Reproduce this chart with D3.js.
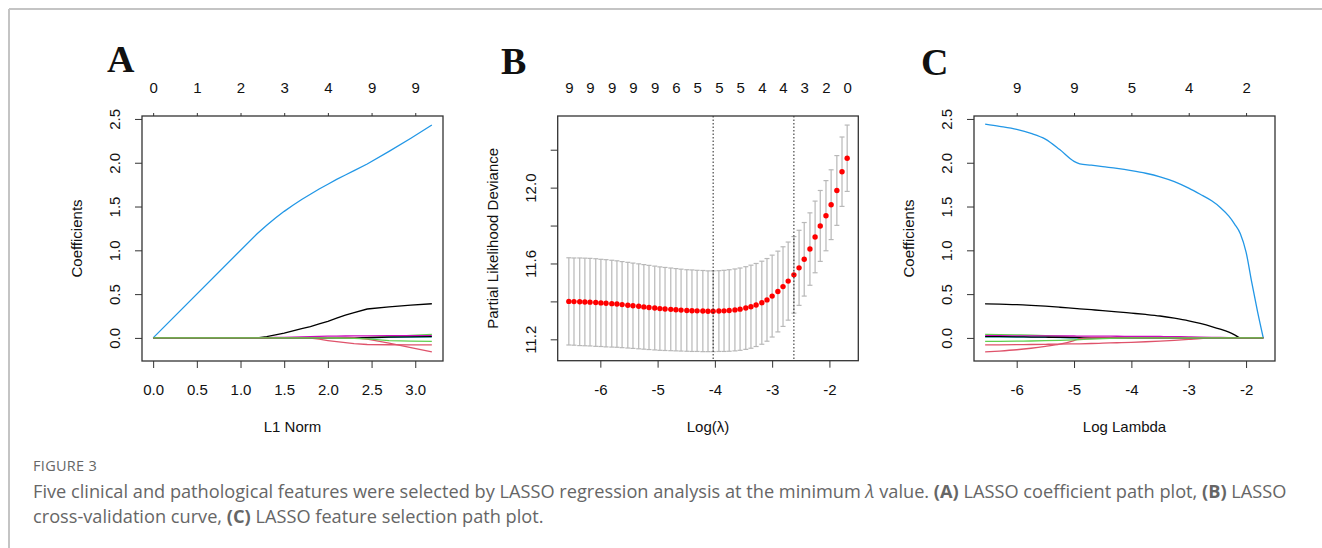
<!DOCTYPE html>
<html>
<head>
<meta charset="utf-8">
<script src="https://cdn.jsdelivr.net/npm/d3@7/dist/d3.min.js"></script>
<style>
body { margin: 0; background: #fff; }
svg text { font-family: "Liberation Sans", Arial, sans-serif; fill: #111; }
svg text.letter { font-family: "Liberation Serif", "Times New Roman", serif; font-weight: bold; }
svg text.cap { font-family: "Open Sans", sans-serif; fill: #666; }
</style>
</head>
<body>
<svg id="fig" width="1322" height="548"></svg>
<script>
// ---- panel A : coefficient path vs L1 norm ----
var l1Norm = [0, 1.19, 1.3, 1.4, 1.5, 1.6, 1.7, 1.8, 1.9, 2.0, 2.1, 2.2, 2.3, 2.45, 2.7, 2.95, 3.19];
var aVar1 = [0, 0, 0.015, 0.035, 0.055, 0.08, 0.105, 0.13, 0.16, 0.19, 0.225, 0.26, 0.29, 0.33, 0.355, 0.375, 0.39];
var aVar2 = [0, 0, 0, 0, 0, 0, 0, -0.003, -0.015, -0.03, -0.043, -0.055, -0.065, -0.075, -0.078, -0.08, -0.08];
var aVar3 = [0, 0, 0, 0, 0, 0, 0, 0, 0, 0, 0, 0, 0, 0.005, 0.015, 0.03, 0.04];
var aVar4 = [0, 1.19, 1.285, 1.37, 1.445, 1.515, 1.58, 1.64, 1.70, 1.755, 1.81, 1.86, 1.91, 1.985, 2.13, 2.28, 2.43];
var aVar5 = [0, 0, 0, 0, 0, 0, 0, 0, 0, 0, 0, 0, 0, 0, 0.005, 0.008, 0.012];
var aVar6 = [0, 0, 0.002, 0.005, 0.007, 0.01, 0.012, 0.015, 0.017, 0.02, 0.021, 0.022, 0.023, 0.024, 0.025, 0.026, 0.027];
var aVar7 = [0, 0, 0, 0, 0, 0, 0, 0, 0, 0, 0, 0, 0, 0.002, 0.008, 0.012, 0.015];
var aVar8 = [0, 0, 0, 0, 0, 0, 0, 0, 0, 0, 0, 0, 0, -0.015, -0.06, -0.11, -0.16];
var aVar9 = [0, 0, 0, 0, 0, 0, 0, 0, 0, 0, -0.001, -0.003, -0.006, -0.012, -0.03, -0.036, -0.04];
var aTopTicks = [0, 0.5, 1, 1.5, 2, 2.5, 3];
var aTopLabels = ["0", "1", "2", "3", "4", "9", "9"];

// ---- panel B : cross-validation curve ----
var logLambda = [-6.55, -6.46, -6.36, -6.27, -6.18, -6.08, -5.99, -5.90, -5.80, -5.71,
  -5.62, -5.52, -5.43, -5.33, -5.24, -5.15, -5.05, -4.96, -4.87, -4.77,
  -4.68, -4.59, -4.49, -4.40, -4.31, -4.21, -4.12, -4.03, -3.93, -3.84,
  -3.75, -3.65, -3.56, -3.46, -3.37, -3.28, -3.18, -3.09, -3.00, -2.90,
  -2.81, -2.72, -2.62, -2.53, -2.44, -2.34, -2.25, -2.16, -2.06, -1.97,
  -1.87, -1.78, -1.69];
var cvMean = [11.400, 11.399, 11.398, 11.397, 11.396, 11.394, 11.392, 11.390, 11.388, 11.386,
  11.383, 11.380, 11.377, 11.374, 11.371, 11.368, 11.365, 11.362, 11.360, 11.358,
  11.356, 11.354, 11.352, 11.351, 11.350, 11.349, 11.348, 11.348, 11.349, 11.350,
  11.352, 11.355, 11.359, 11.365, 11.372, 11.381, 11.393, 11.408, 11.428, 11.452,
  11.478, 11.507, 11.540, 11.577, 11.622, 11.676, 11.740, 11.798, 11.852, 11.910,
  11.985, 12.084, 12.155];
var cvSd = [0.230, 0.230, 0.231, 0.231, 0.231, 0.231, 0.230, 0.230, 0.229, 0.228,
  0.227, 0.226, 0.225, 0.224, 0.223, 0.222, 0.221, 0.220, 0.219, 0.218,
  0.217, 0.216, 0.215, 0.215, 0.214, 0.214, 0.213, 0.213, 0.213, 0.214,
  0.215, 0.216, 0.217, 0.218, 0.219, 0.219, 0.219, 0.218, 0.216, 0.213,
  0.210, 0.206, 0.202, 0.198, 0.194, 0.191, 0.189, 0.187, 0.185, 0.184,
  0.184, 0.183, 0.175];
var nzeroB = ["9", "9", "9", "9", "9", "6", "5", "5", "5", "4", "4", "3", "2", "0"];
var lambdaMin = -4.03, lambda1se = -2.62;

// ---- panel C : coefficient path vs log lambda ----
var logLambdaC = [-6.55, -6.3, -6, -5.75, -5.5, -5.25, -5, -4.9, -4.7, -4.5, -4.25, -4, -3.75,
  -3.5, -3.25, -3, -2.8, -2.6, -2.45, -2.3, -2.2, -2.1, -2.0, -1.9, -1.8, -1.70];
var cVar1 = [0.39, 0.385, 0.38, 0.372, 0.362, 0.35, 0.337, 0.332, 0.322, 0.312, 0.298, 0.283, 0.268,
  0.25, 0.225, 0.195, 0.165, 0.13, 0.10, 0.065, 0.035, 0, 0, 0, 0, 0];
var cVar2 = [-0.08, -0.079, -0.077, -0.075, -0.073, -0.071, -0.068, -0.067, -0.064, -0.06, -0.055, -0.05, -0.044,
  -0.037, -0.028, -0.017, -0.007, 0, 0, 0, 0, 0, 0, 0, 0, 0];
var cVar3 = [0.04, 0.038, 0.035, 0.031, 0.026, 0.02, 0.012, 0.008, 0.002, 0, 0, 0, 0,
  0, 0, 0, 0, 0, 0, 0, 0, 0, 0, 0, 0, 0];
var cVar4 = [2.44, 2.415, 2.38, 2.335, 2.27, 2.15, 2.015, 1.988, 1.972, 1.955, 1.935, 1.91, 1.88,
  1.84, 1.785, 1.71, 1.64, 1.565, 1.49, 1.39, 1.30, 1.19, 0.98, 0.63, 0.3, 0];
var cVar5 = [0.012, 0.011, 0.01, 0.008, 0.006, 0.004, 0.002, 0.001, 0, 0, 0, 0, 0,
  0, 0, 0, 0, 0, 0, 0, 0, 0, 0, 0, 0, 0];
var cVar6 = [0.025, 0.025, 0.024, 0.024, 0.023, 0.022, 0.022, 0.021, 0.021, 0.02, 0.019, 0.018, 0.017,
  0.016, 0.014, 0.012, 0.01, 0.007, 0.005, 0.003, 0.002, 0, 0, 0, 0, 0];
var cVar7 = [0.015, 0.014, 0.012, 0.01, 0.008, 0.006, 0.003, 0.002, 0, 0, 0, 0, 0,
  0, 0, 0, 0, 0, 0, 0, 0, 0, 0, 0, 0, 0];
var cVar8 = [-0.16, -0.15, -0.135, -0.118, -0.097, -0.072, -0.03, -0.008, 0, 0, 0, 0, 0,
  0, 0, 0, 0, 0, 0, 0, 0, 0, 0, 0, 0, 0];
var cVar9 = [-0.04, -0.039, -0.037, -0.035, -0.032, -0.028, -0.022, -0.019, -0.013, -0.008, -0.003, 0, 0,
  0, 0, 0, 0, 0, 0, 0, 0, 0, 0, 0, 0, 0];
var cTopTicks = [-6, -5, -4, -3, -2];
var cTopLabels = ["9", "9", "5", "4", "2"];

// R 4.x default palette, matplot cycles 1:6
var rPal = ["#000000", "#DF536B", "#61D04F", "#2297E6", "#28E2E5", "#CD0BBC"];

var svg = d3.select("#fig");

// frame of the figure card
svg.append("line").attr("x1", 9).attr("x2", 1322).attr("y1", 9).attr("y2", 9)
  .attr("stroke", "#c4c4c4").attr("stroke-width", 2);
svg.append("line").attr("x1", 9).attr("x2", 9).attr("y1", 9).attr("y2", 548)
  .attr("stroke", "#c4c4c4").attr("stroke-width", 2);

function padded(ext) {
  var r = ext[1] - ext[0];
  return [ext[0] - 0.04 * r, ext[1] + 0.04 * r];
}

// builds an R-like base graphics panel
function panel(box, xDom, yDom, o) {
  var x = d3.scaleLinear().domain(xDom).range([box.x0, box.x1]);
  var y = d3.scaleLinear().domain(yDom).range([box.y1, box.y0]);
  var g = svg.append("g");

  var ax = g.append("g").attr("transform", "translate(0," + box.y1 + ")")
    .call(d3.axisBottom(x).tickValues(o.xTicks).tickSize(7).tickFormat(o.xFmt));
  ax.select(".domain").remove();
  ax.selectAll("text").attr("y", 29).attr("dy", "0.35em");

  var ay = g.append("g").attr("transform", "translate(" + box.x0 + ",0)")
    .call(d3.axisLeft(y).tickValues(o.yTicks).tickSize(7).tickFormat(o.yFmt));
  ay.select(".domain").remove();
  ay.selectAll("text").attr("transform", "rotate(-90)")
    .attr("x", 0).attr("y", -27).attr("dy", "0.35em").style("text-anchor", "middle");

  var at = g.append("g").attr("transform", "translate(0," + box.y0 + ")")
    .call(d3.axisTop(x).tickValues(o.topTicks).tickSize(o.topTickSize)
      .tickFormat(function(d, i) { return o.topLabels[i]; }));
  at.select(".domain").remove();
  at.selectAll("text").attr("y", -28).attr("dy", "0.35em");

  g.selectAll(".tick line").attr("stroke", "#333");
  g.selectAll(".tick text").style("font-size", "15px").attr("fill", "#111");

  g.append("text").attr("x", (box.x0 + box.x1) / 2).attr("y", 427).attr("dy", "0.35em")
    .style("text-anchor", "middle").style("font-size", "15px").text(o.xLab);
  g.append("text").attr("transform", "translate(" + (box.x0 - 65) + "," + ((box.y0 + box.y1) / 2) + ") rotate(-90)")
    .attr("dy", "0.35em").style("text-anchor", "middle").style("font-size", "15px").text(o.yLab);
  g.append("text").attr("class", "letter").attr("x", o.letterX).attr("y", o.letterY)
    .style("font-size", "38px").text(o.letter);

  return { g: g, x: x, y: y, box: box };
}

function drawBox(p) {
  p.g.append("rect").attr("x", p.box.x0).attr("y", p.box.y0)
    .attr("width", p.box.x1 - p.box.x0).attr("height", p.box.y1 - p.box.y0)
    .attr("fill", "none").attr("stroke", "#333").attr("stroke-width", 1.3);
}

function drawPaths(p, xs, series, curve) {
  var line = d3.line().curve(curve)
    .x(function(d) { return p.x(d[0]); }).y(function(d) { return p.y(d[1]); });
  series.forEach(function(s, i) {
    p.g.append("path").datum(xs.map(function(v, j) { return [v, s[j]]; }))
      .attr("d", line).attr("fill", "none")
      .attr("stroke", rPal[i % 6]).attr("stroke-width", 1.3);
  });
}

var coefTicks = [0, 0.5, 1, 1.5, 2, 2.5];
var fmt1 = function(d) { return d.toFixed(1); };
var fmtInt = function(d) { return String(d); };

// ---- A ----
var seriesA = [aVar1, aVar2, aVar3, aVar4, aVar5, aVar6, aVar7, aVar8, aVar9];
var yExtA = padded([d3.min(seriesA, function(s) { return d3.min(s); }), d3.max(seriesA, function(s) { return d3.max(s); })]);
var pA = panel({ x0: 142, x1: 443, y0: 116, y1: 361 }, padded(d3.extent(l1Norm)), yExtA, {
  xTicks: [0, 0.5, 1, 1.5, 2, 2.5, 3], xFmt: fmt1,
  yTicks: coefTicks, yFmt: fmt1,
  topTicks: aTopTicks, topLabels: aTopLabels, topTickSize: 3,
  xLab: "L1 Norm", yLab: "Coefficients", letter: "A", letterX: 107, letterY: 72
});
drawPaths(pA, l1Norm, seriesA, d3.curveLinear);
drawBox(pA);

// ---- B ----
var lowB = cvMean.map(function(m, i) { return m - cvSd[i]; });
var upB = cvMean.map(function(m, i) { return m + cvSd[i]; });
var pB = panel({ x0: 557.7, x1: 858.3, y0: 116, y1: 360.7 }, padded(d3.extent(logLambda)),
  padded([d3.min(lowB), d3.max(upB)]), {
  xTicks: [-6, -5, -4, -3, -2], xFmt: fmtInt,
  yTicks: [11.2, 11.4, 11.6, 11.8, 12.0, 12.2],
  yFmt: function(d) { return (Math.round(d * 10) % 4 === 0) ? d.toFixed(1) : ""; },
  topTicks: logLambda.filter(function(d, i) { return i % 4 === 0; }), topLabels: nzeroB, topTickSize: 0,
  xLab: "Log(\u03BB)", yLab: "Partial Likelihood Deviance", letter: "B", letterX: 501, letterY: 74
});
var bars = pB.g.append("g").attr("stroke", "#b8b8b8").attr("stroke-width", 1.2);
logLambda.forEach(function(v, i) {
  var cx = pB.x(v);
  bars.append("line").attr("x1", cx).attr("x2", cx).attr("y1", pB.y(lowB[i])).attr("y2", pB.y(upB[i]));
  bars.append("line").attr("x1", cx - 2.5).attr("x2", cx + 2.5).attr("y1", pB.y(lowB[i])).attr("y2", pB.y(lowB[i]));
  bars.append("line").attr("x1", cx - 2.5).attr("x2", cx + 2.5).attr("y1", pB.y(upB[i])).attr("y2", pB.y(upB[i]));
});
pB.g.selectAll(".dot").data(logLambda).enter().append("circle")
  .attr("cx", function(d) { return pB.x(d); })
  .attr("cy", function(d, i) { return pB.y(cvMean[i]); })
  .attr("r", 2.7).attr("fill", "#ff0000");
[lambdaMin, lambda1se].forEach(function(v) {
  pB.g.append("line").attr("x1", pB.x(v)).attr("x2", pB.x(v)).attr("y1", 116).attr("y2", 360.7)
    .attr("stroke", "#222").attr("stroke-width", 1).attr("stroke-dasharray", "1.5,2");
});
drawBox(pB);

// ---- C ----
var seriesC = [cVar1, cVar2, cVar3, cVar4, cVar5, cVar6, cVar7, cVar8, cVar9];
var pC = panel({ x0: 974, x1: 1275, y0: 116, y1: 361 }, padded(d3.extent(logLambda)), yExtA, {
  xTicks: [-6, -5, -4, -3, -2], xFmt: fmtInt,
  yTicks: coefTicks, yFmt: fmt1,
  topTicks: cTopTicks, topLabels: cTopLabels, topTickSize: 3,
  xLab: "Log Lambda", yLab: "Coefficients", letter: "C", letterX: 921, letterY: 75
});
drawPaths(pC, logLambdaC, seriesC, d3.curveMonotoneX);
drawBox(pC);

// ---- caption ----
svg.append("text").attr("class", "cap").attr("x", 33).attr("y", 471)
  .style("font-size", "14.5px").style("letter-spacing", "0.3px").text("FIGURE 3");
var l1 = svg.append("text").attr("class", "cap").attr("x", 33).attr("y", 498).style("font-size", "18.2px");
l1.append("tspan").text("Five clinical and pathological features were selected by LASSO regression analysis at the minimum ");
l1.append("tspan").style("font-style", "italic").text("\u03BB");
l1.append("tspan").text(" value. ");
l1.append("tspan").style("font-weight", "700").text("(A)");
l1.append("tspan").text(" LASSO coefficient path plot, ");
l1.append("tspan").style("font-weight", "700").text("(B)");
l1.append("tspan").text(" LASSO");
var l2 = svg.append("text").attr("class", "cap").attr("x", 33).attr("y", 523).style("font-size", "18.2px");
l2.append("tspan").text("cross-validation curve, ");
l2.append("tspan").style("font-weight", "700").text("(C)");
l2.append("tspan").text(" LASSO feature selection path plot.");
</script>
</body>
</html>
